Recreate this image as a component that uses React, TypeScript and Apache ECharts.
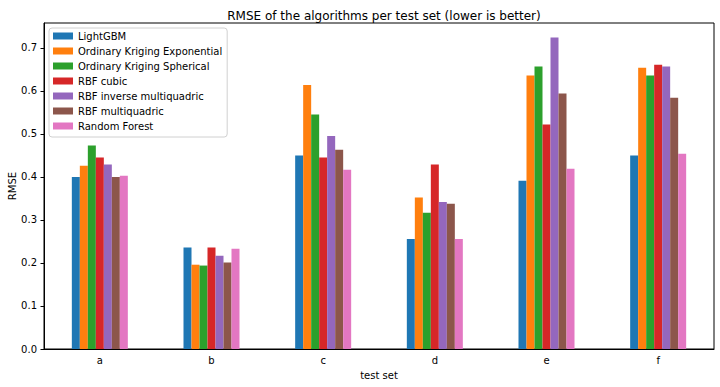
import React, { useEffect, useRef } from "react";
import * as echarts from "echarts";

const categories = ["a", "b", "c", "d", "e", "f"];
const seriesNames = [
  "LightGBM",
  "Ordinary Kriging Exponential",
  "Ordinary Kriging Spherical",
  "RBF cubic",
  "RBF inverse multiquadric",
  "RBF multiquadric",
  "Random Forest",
];
const lightGBM = [0.4, 0.236, 0.45, 0.256, 0.391, 0.45];
const okExponential = [0.426, 0.196, 0.614, 0.352, 0.636, 0.654];
const okSpherical = [0.473, 0.194, 0.545, 0.317, 0.657, 0.636];
const rbfCubic = [0.445, 0.236, 0.445, 0.429, 0.522, 0.661];
const rbfInvMulti = [0.429, 0.217, 0.495, 0.342, 0.724, 0.657];
const rbfMulti = [0.4, 0.201, 0.463, 0.338, 0.594, 0.584];
const randomForest = [0.403, 0.233, 0.417, 0.256, 0.419, 0.454];
const yTicks = [0, 0.1, 0.2, 0.3, 0.4, 0.5, 0.6, 0.7];
const colors = ["#1f77b4", "#ff7f0e", "#2ca02c", "#d62728", "#9467bd", "#8c564b", "#e377c2"];

const allSeries = [lightGBM, okExponential, okSpherical, rbfCubic, rbfInvMulti, rbfMulti, randomForest];

export default function App() {
  const ref = useRef<HTMLDivElement>(null);
  useEffect(() => {
    const chart = echarts.init(ref.current!, null, { renderer: "svg" });
    const font = "DejaVu Sans";
    chart.setOption({
      animation: false,
      color: colors,
      textStyle: { fontFamily: font },
      title: {
        text: "RMSE of the algorithms per test set (lower is better)",
        left: 379,
        textAlign: "center",
        top: 5,
        textStyle: { fontFamily: font, fontSize: 12, fontWeight: "normal", color: "#000" },
      },
      legend: {
        orient: "vertical",
        left: 49,
        top: 28,
        padding: [2, 5, 5, 4],
        itemGap: 3,
        itemWidth: 20,
        itemHeight: 7,
        itemTextGap: 8,
        icon: "rect",
        borderColor: "#d0d0d0",
        borderWidth: 1,
        borderRadius: 3,
        backgroundColor: "rgba(255,255,255,0.8)",
        textStyle: { fontFamily: font, fontSize: 10, color: "#000", lineHeight: 12 },
        data: seriesNames,
      },
      grid: {
        left: 44,
        right: 6,
        top: 23,
        bottom: 38,
        containLabel: false,
        outerBoundsMode: "none",
        show: true,
        borderColor: "#000",
        borderWidth: 1,
        backgroundColor: "transparent",
      },
      xAxis: {
        type: "category",
        data: categories,
        name: "test set",
        nameLocation: "middle",
        nameGap: 21,
        nameMoveOverlap: false,
        nameTextStyle: { fontFamily: font, fontSize: 10, color: "#000" },
        axisLine: { lineStyle: { color: "#000", width: 1 } },
        axisTick: { alignWithLabel: true, length: 3.5, lineStyle: { color: "#000" } },
        axisLabel: { fontFamily: font, fontSize: 10, color: "#000", margin: 6 },
        splitLine: { show: false },
      },
      yAxis: {
        type: "value",
        min: 0,
        max: 0.758,
        interval: 0.1,
        name: "RMSE",
        nameLocation: "middle",
        nameGap: 27,
        nameMoveOverlap: false,
        nameTextStyle: { fontFamily: font, fontSize: 10, color: "#000" },
        axisLine: { show: true, lineStyle: { color: "#000", width: 1 } },
        axisTick: { show: true, length: 3.5, lineStyle: { color: "#000" }, customValues: yTicks },
        axisLabel: {
          fontFamily: font,
          fontSize: 10,
          color: "#000",
          margin: 7,
          customValues: yTicks,
          formatter: (v: number) => v.toFixed(1),
        },
        splitLine: { show: false },
      },
      series: allSeries.map((d, i) => ({
        name: seriesNames[i],
        type: "bar",
        data: d,
        barWidth: 8,
        barGap: "0%",
        itemStyle: { color: colors[i] },
      })),
    });
    return () => chart.dispose();
  }, []);
  return <div ref={ref} style={{ width: 720, height: 387, position: "absolute", left: 0, top: 0 }} />;
}
